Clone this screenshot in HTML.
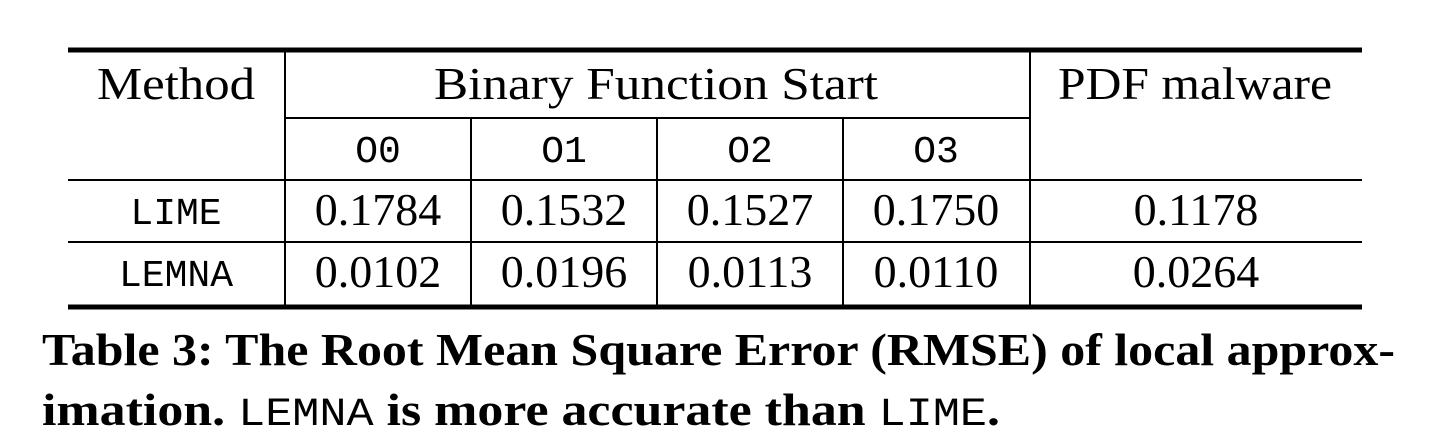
<!DOCTYPE html>
<html><head><meta charset="utf-8"><style>
html,body{margin:0;padding:0;background:#fff;}
svg{display:block;}
.s{font-family:"Liberation Serif",serif;font-size:46px;fill:#000;}
.m{font-family:"Liberation Mono",monospace;font-size:38px;fill:#000;}
.c{font-family:"Liberation Serif",serif;font-size:46px;font-weight:bold;fill:#000;}
.cm{font-family:"Liberation Mono",monospace;font-size:40px;fill:#000;}
</style></head><body>
<svg width="1440" height="442" viewBox="0 0 1440 442">
<g stroke="#000">
<line x1="68" y1="50" x2="1362" y2="50" stroke-width="5"/>
<line x1="285" y1="118" x2="1030" y2="118" stroke-width="2"/>
<line x1="68" y1="180" x2="1362" y2="180" stroke-width="2"/>
<line x1="68" y1="242" x2="1362" y2="242" stroke-width="2"/>
<line x1="68" y1="307" x2="1362" y2="307" stroke-width="5"/>
<line x1="285" y1="52" x2="285" y2="305" stroke-width="2"/>
<line x1="1030" y1="52" x2="1030" y2="305" stroke-width="2"/>
<line x1="471" y1="118" x2="471" y2="305" stroke-width="2"/>
<line x1="657" y1="118" x2="657" y2="305" stroke-width="2"/>
<line x1="843" y1="118" x2="843" y2="305" stroke-width="2"/>
</g>
<g text-anchor="middle">
<text class="s" x="176" y="99" textLength="158" lengthAdjust="spacingAndGlyphs">Method</text>
<text class="s" x="656" y="99" textLength="444" lengthAdjust="spacingAndGlyphs">Binary Function Start</text>
<text class="s" x="1195" y="99" textLength="274" lengthAdjust="spacingAndGlyphs">PDF malware</text>
<text class="m" x="378" y="162">O0</text>
<text class="m" x="564" y="162">O1</text>
<text class="m" x="750" y="162">O2</text>
<text class="m" x="936" y="162">O3</text>
<text class="m" x="176" y="224">LIME</text>
<text class="s" x="378" y="225">0.1784</text>
<text class="s" x="564" y="225">0.1532</text>
<text class="s" x="750" y="225">0.1527</text>
<text class="s" x="936" y="225">0.1750</text>
<text class="s" x="1196" y="225">0.1178</text>
<text class="m" x="176" y="286">LEMNA</text>
<text class="s" x="378" y="287">0.0102</text>
<text class="s" x="564" y="287">0.0196</text>
<text class="s" x="750" y="287">0.0113</text>
<text class="s" x="936" y="287">0.0110</text>
<text class="s" x="1196" y="287">0.0264</text>
</g>
<text class="c" x="42" y="365" textLength="1353" lengthAdjust="spacingAndGlyphs">Table 3: The Root Mean Square Error (RMSE) of local approx-</text>
<text x="42" y="425" textLength="958" lengthAdjust="spacingAndGlyphs"><tspan class="c">imation. </tspan><tspan class="cm">LEMNA</tspan><tspan class="c"> is more accurate than </tspan><tspan class="cm">LIME</tspan><tspan class="c">.</tspan></text>
</svg>
</body></html>
